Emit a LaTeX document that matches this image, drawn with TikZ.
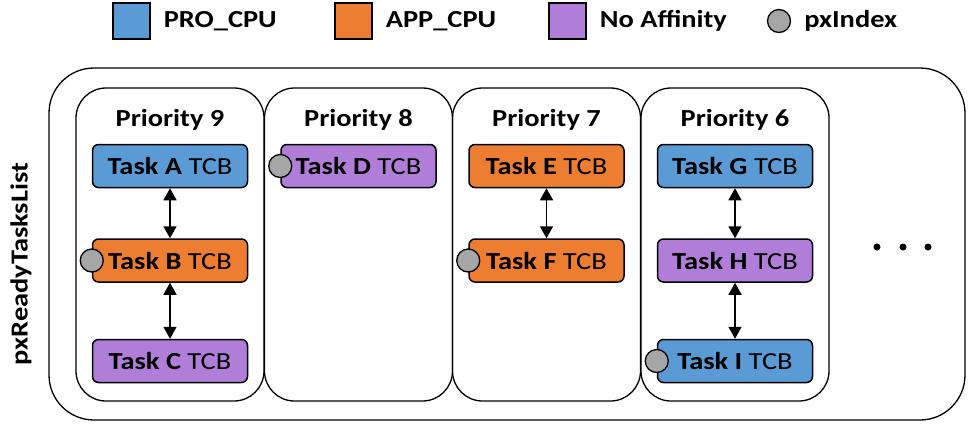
\documentclass[tikz,border=0pt]{standalone}
\usepackage{fontspec}
\setmainfont{Carlito}[FakeStretch=1.16]
\usepackage{xcolor}
\usetikzlibrary{arrows.meta,positioning}

\definecolor{problue}{HTML}{5B9BD5}
\definecolor{apporange}{HTML}{ED7D31}
\definecolor{nopurple}{HTML}{B07ED8}
\definecolor{idxgray}{HTML}{A6A6A6}

\begin{document}
\begin{tikzpicture}[x=1pt, y=-1pt, font=\fontsize{24.5}{29}\selectfont,
    tcb/.style={draw, rounded corners=6pt, line width=1.5pt, minimum width=155pt, minimum height=43pt, inner sep=0pt},
    prio/.style={draw, rounded corners=30pt, line width=1.3pt, minimum width=188pt, minimum height=313pt},
    title/.style={font=\fontsize{24.5}{29}\selectfont\bfseries, inner sep=0pt},
    index/.style={circle, draw, line width=1.3pt, fill=idxgray, minimum size=23pt, inner sep=0pt},
    key/.style={draw, line width=1.3pt, minimum width=37pt, minimum height=36pt},
    link/.style={{Triangle[width=13pt,length=12pt]}-{Triangle[width=13pt,length=12pt]}, line width=1.5pt}]

    \useasboundingbox (0,0) rectangle (972,429);

    % legend
    \node (keypro) [key, fill=problue] at (131.5,21) {};
    \node (txtpro) [title, right=13pt of keypro] {PRO\_CPU};
    \node (keyapp) [key, fill=apporange] at (353.5,21) {};
    \node (txtapp) [title, right=13pt of keyapp] {APP\_CPU};
    \node (keyno) [key, fill=nopurple] at (567.5,21) {};
    \node (txtno) [title, right=13pt of keyno] {No Affinity};
    \node (keyidx) [index] at (779,21) {};
    \node (txtidx) [title, right=13pt of keyidx] {pxIndex};

    % ready list
    \node (readylist) [draw, rounded corners=45pt, line width=1.3pt, minimum width=916pt, minimum height=352pt] at (507,244) {};
    \node (listlabel) [title, rotate=90] at (21,264) {pxReadyTasksList};

    % priority 9
    \node (prio9) [prio] at (170,244.5) {};
    \node (title9) [title, below=22pt of prio9.north] {Priority 9};
    \node (taskA) [tcb, fill=problue] at (170,166) {\textbf{Task A} TCB};
    \node (taskB) [tcb, fill=apporange, below=50pt of taskA] {\textbf{Task B} TCB};
    \node (taskC) [tcb, fill=nopurple, below=56pt of taskB] {\textbf{Task C} TCB};
    \node (idxB) [index] at (taskB.west) {};

    % priority 8
    \node (prio8) [prio] at (358.5,244.5) {};
    \node (title8) [title, below=22pt of prio8.north] {Priority 8};
    \node (taskD) [tcb, fill=nopurple] at (358.5,166) {\textbf{Task D} TCB};
    \node (idxD) [index] at (taskD.west) {};

    % priority 7
    \node (prio7) [prio] at (546.5,244.5) {};
    \node (title7) [title, below=22pt of prio7.north] {Priority 7};
    \node (taskE) [tcb, fill=apporange] at (546.5,166) {\textbf{Task E} TCB};
    \node (taskF) [tcb, fill=apporange, below=50pt of taskE] {\textbf{Task F} TCB};
    \node (idxF) [index] at (taskF.west) {};

    % priority 6
    \node (prio6) [prio] at (735,244.5) {};
    \node (title6) [title, below=22pt of prio6.north] {Priority 6};
    \node (taskG) [tcb, fill=problue] at (735,166) {\textbf{Task G} TCB};
    \node (taskH) [tcb, fill=nopurple, below=50pt of taskG] {\textbf{Task H} TCB};
    \node (taskI) [tcb, fill=problue, below=56pt of taskH] {\textbf{Task I} TCB};
    \node (idxI) [index] at (taskI.west) {};

    \draw[link] (taskA) -- (taskB);
    \draw[link] (taskB) -- (taskC);
    \draw[link] (taskE) -- (taskF);
    \draw[link] (taskG) -- (taskH);
    \draw[link] (taskH) -- (taskI);

    % more lists
    \fill (877,247) circle (3.5pt) (903,247) circle (3.5pt) (928,247) circle (3.5pt);

\end{tikzpicture}
\end{document}
